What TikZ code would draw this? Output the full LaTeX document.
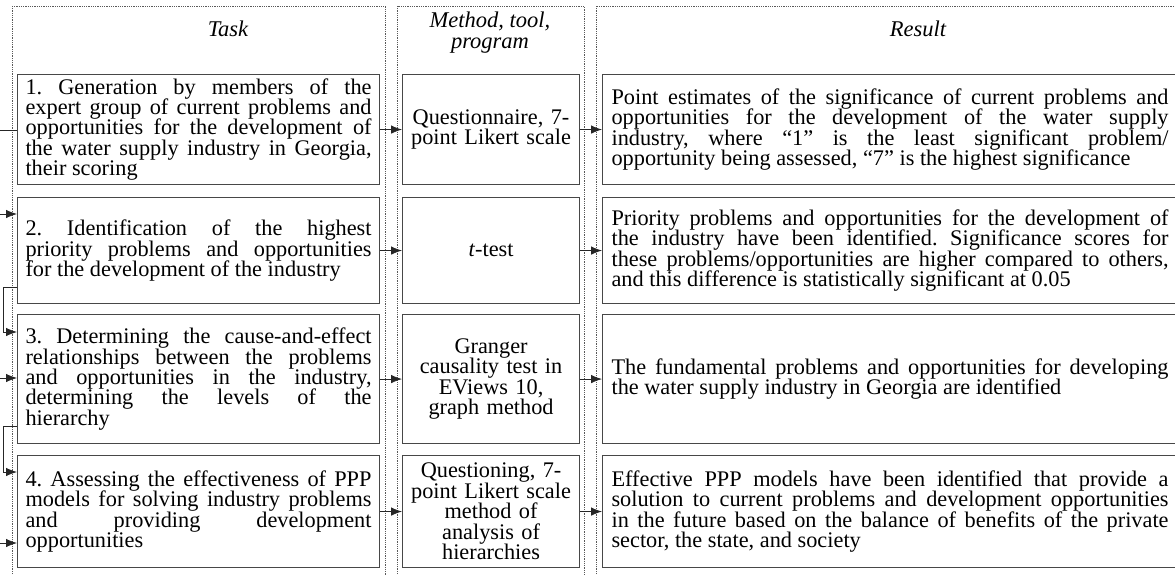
\documentclass[tikz,border=0pt]{standalone}
\usepackage{fontspec}
\setmainfont{Liberation Serif}
\usetikzlibrary{arrows.meta}
\newcommand\tightlines{\lineskiplimit=-100pt\relax\lineskip=0pt\relax\tolerance=10000\relax\hyphenpenalty=10000\relax\frenchspacing}
\begin{document}
\begin{tikzpicture}[x=1pt,y=-1pt,
  txt/.style={font=\fontsize{22.3}{20.45}\selectfont, execute at begin node=\tightlines},
  box/.style={txt, draw=black!72, line width=1.1pt, inner sep=0pt, anchor=north west},
  taskbox/.style={box, minimum width=362pt, text width=346pt, align=justify},
  methbox/.style={box, minimum width=177pt, text width=170pt, align=center},
  resbox/.style={box, minimum width=575pt, text width=557pt, align=justify},
  frame/.style={draw=black!65, densely dotted, line width=0.8pt},
  head/.style={font=\fontsize{22.5}{21}\selectfont\itshape, align=center, inner sep=0pt, execute at begin node=\tightlines},
  conn/.style={draw=black!85, line width=0.8pt},
  arr/.style={conn, -{Latex[length=11pt,width=8.5pt]}}]
\clip (0,0) rectangle (1175,574);
% column frames
\draw[frame] (12,6) rectangle (385,600);
\draw[frame] (397,6) rectangle (584,600);
\draw[frame] (596,6) rectangle (1200,600);
% headers
\node[head] (hT) at (228,29) {Task};
\node[head] (hM) at (490,33) {Method, tool,\\program};
\node[head] (hR) at (918,29) {Result};
% task boxes
\node[taskbox, minimum height=110pt] (t1) at (17,74) {1. Generation by members of the\linebreak expert group of current problems and\linebreak opportunities for the development of\linebreak the water supply industry in Georgia,\linebreak their scoring};
\node[taskbox, minimum height=106pt] (t2) at (17,197) {2. Identification of the highest\linebreak priority problems and opportunities\linebreak for the development of the industry};
\node[taskbox, minimum height=129pt] (t3) at (17,314) {3. Determining the cause-and-effect\linebreak relationships between the problems\linebreak and opportunities in the industry,\linebreak determining the levels of the\linebreak hierarchy};
\node[taskbox, minimum height=112pt] (t4) at (17,455) {4. Assessing the effectiveness of PPP\linebreak models for solving industry problems\linebreak and providing development\linebreak opportunities};
% method boxes
\node[methbox, minimum height=110pt] (m1) at (402,74) {Questionnaire, 7-\\point Likert scale};
\node[methbox, minimum height=106pt] (m2) at (402,197) {\textit{t}-test};
\node[methbox, minimum height=129pt] (m3) at (402,314) {Granger\\causality test in\\EViews 10,\\graph method};
\node[methbox, minimum height=112pt] (m4) at (402,455) {Questioning, 7-\\point Likert scale\\method of\\analysis of\\hierarchies};
% result boxes
\node[resbox, minimum height=110pt] (r1) at (602,74) {Point estimates of the significance of current problems and\linebreak opportunities for the development of the water supply\linebreak industry, where “1” is the least significant problem/\linebreak opportunity being assessed, “7” is the highest significance};
\node[resbox, minimum height=106pt] (r2) at (602,197) {Priority problems and opportunities for the development of\linebreak the industry have been identified. Significance scores for\linebreak these problems/opportunities are higher compared to others,\linebreak and this difference is statistically significant at 0.05};
\node[resbox, minimum height=129pt] (r3) at (602,314) {The fundamental problems and opportunities for developing\linebreak the water supply industry in Georgia are identified};
\node[resbox, minimum height=112pt] (r4) at (602,455) {Effective PPP models have been identified that provide a\linebreak solution to current problems and development opportunities\linebreak in the future based on the balance of benefits of the private\linebreak sector, the state, and society};
% row arrows
\foreach \i in {1,2,3,4}{
  \draw[arr] (t\i) -- (m\i);
  \draw[arr] (m\i) -- (r\i);
}
% left connectors
\coordinate (in1) at (0,130);
\coordinate (in2) at (0,214);
\coordinate (in3) at (0,378);
\coordinate (in4) at (0,543);
\coordinate (k2) at (3,287);
\coordinate (k3) at (3,332);
\coordinate (k4) at (3,426);
\coordinate (k5) at (3,472);
\draw[conn] (in1) -- (in1 -| t1.west);
\draw[arr] (in2) -- (in2 -| t2.west);
\draw[arr] (in3) -- (in3 -| t3.west);
\draw[arr] (in4) -- (in4 -| t4.west);
\draw[arr] (k2 -| t2.west) -- (k2) -- (k3) -- (k3 -| t3.west);
\draw[arr] (k4 -| t3.west) -- (k4) -- (k5) -- (k5 -| t4.west);
\end{tikzpicture}
\end{document}
